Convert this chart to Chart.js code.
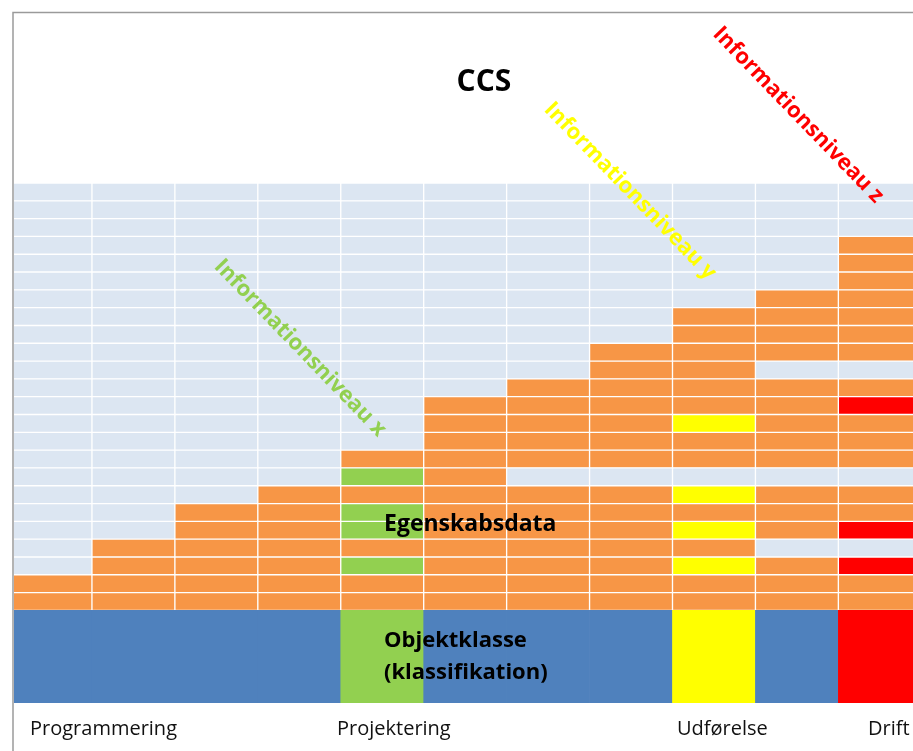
<!DOCTYPE html>
<html>
<head>
<meta charset="utf-8">
<script src="https://cdn.jsdelivr.net/npm/chart.js@4.4.1/dist/chart.umd.min.js"></script>
<style>
  html, body { margin: 0; padding: 0; background: #fff; }
  #wrap { width: 913px; height: 751px; position: relative; }
</style>
</head>
<body>
<div id="wrap"><canvas id="ccsChart"></canvas></div>
<script>
// 11 time slices along the building process, left to right
const columns = [0, 1, 2, 3, 4, 5, 6, 7, 8, 9, 10];
const phaseLabels = ['Programmering', 'Projektering', 'Udførelse', 'Drift'];
const levelNames = ['Informationsniveau x', 'Informationsniveau y', 'Informationsniveau z'];

const rowCount = 24;          // rows of property data (Egenskabsdata)
const classBand = 5.2;        // height of the Objektklasse band, in rows
const filledRows = [2, 4, 6, 7, 9, 12, 13, 15, 17, 18, 21];
const gapRows = [[], [], [], [], [], [], [8], [8], [8], [4, 8, 14], [4, 8, 14]];
const columnLevel = ['', '', '', '', 'x', '', '', '', 'y', '', 'z'];
const levelRows = { x: [3, 5, 6, 8], y: [3, 5, 7, 11], z: [3, 5, 12] };

const colors = {
  band: '#4F81BD',
  data: '#F79646',
  empty: '#DCE6F2',
  x: '#92D050',
  y: '#FFFF00',
  z: '#FF0000'
};

function cellColor(col, row) {
  if (row > filledRows[col] || gapRows[col].includes(row)) return colors.empty;
  const lvl = columnLevel[col];
  if (lvl && levelRows[lvl].includes(row)) return colors[lvl];
  return colors.data;
}

const datasets = [{
  label: 'Objektklasse',
  data: columns.map(c => ({ x: c, y: classBand })),
  backgroundColor: columns.map(c => columnLevel[c] ? colors[columnLevel[c]] : colors.band),
  borderWidth: 0
}];
for (let r = 1; r <= rowCount; r++) {
  datasets.push({
    label: 'Egenskabsdata ' + r,
    data: columns.map(c => ({ x: c, y: 1 })),
    backgroundColor: columns.map(c => cellColor(c, r)),
    borderColor: '#ffffff',
    borderWidth: 1,
    borderSkipped: false
  });
}

// text and frame on top of the grid
const textPlugin = {
  id: 'ccsText',
  afterDraw(chart) {
    const ctx = chart.ctx;
    ctx.save();

    ctx.strokeStyle = '#9a9a9a';
    ctx.lineWidth = 1.5;
    ctx.beginPath();
    ctx.moveTo(13, 751);
    ctx.lineTo(13, 12.5);
    ctx.lineTo(913, 12.5);
    ctx.stroke();

    ctx.fillStyle = '#000';
    ctx.textBaseline = 'middle';
    ctx.textAlign = 'center';
    ctx.font = 'bold 30px "Open Sans"';
    ctx.fillText('CCS', 484, 82);

    ctx.textAlign = 'left';
    ctx.font = 'bold 23px "Open Sans"';
    ctx.fillText('Egenskabsdata', 384, 524);
    ctx.font = 'bold 22px "Open Sans"';
    ctx.fillText('Objektklasse', 384, 641);
    ctx.fillText('(klassifikation)', 384, 673);

    ctx.font = '20px "Open Sans"';
    ctx.fillStyle = '#111';
    const phaseX = [30, 337, 677, 868];
    phaseLabels.forEach((t, i) => ctx.fillText(t, phaseX[i], 729));

    const levelPos = [[300, 348], [630, 191], [798, 115]];
    ctx.font = 'bold 22px "Open Sans"';
    ctx.textAlign = 'center';
    levelNames.forEach((t, i) => {
      ctx.save();
      ctx.translate(levelPos[i][0], levelPos[i][1]);
      ctx.rotate(46 * Math.PI / 180);
      ctx.fillStyle = colors[['x', 'y', 'z'][i]];
      ctx.fillText(t, 0, 0);
      ctx.restore();
    });

    ctx.restore();
  }
};

new Chart(document.getElementById('ccsChart'), {
  type: 'bar',
  data: { datasets },
  plugins: [textPlugin],
  options: {
    responsive: true,
    maintainAspectRatio: false,
    animation: false,
    barPercentage: 1,
    categoryPercentage: 1,
    layout: { padding: { left: 14, right: 0, top: 183, bottom: 48 } },
    plugins: {
      legend: { display: false },
      tooltip: { enabled: false }
    },
    scales: {
      x: { type: 'linear', stacked: true, offset: false, min: -0.44, max: 10.4, display: false },
      y: { stacked: true, min: 0, max: classBand + rowCount, display: false }
    }
  }
});
</script>
</body>
</html>
